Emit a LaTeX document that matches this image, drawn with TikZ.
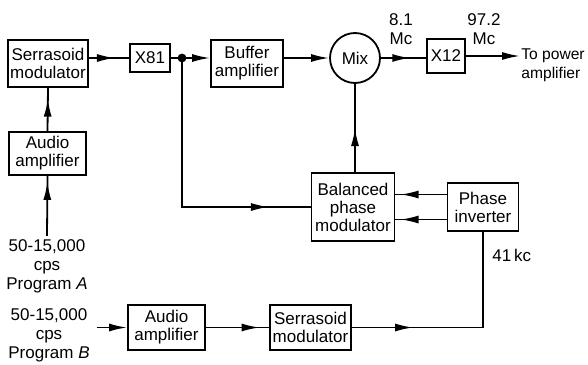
\documentclass[tikz,border=0pt]{standalone}
\usepackage{fontspec}
\setmainfont{Liberation Sans}
\usetikzlibrary{arrows.meta,positioning,calc,decorations.markings}
\tikzset{
  blockbox/.style={draw=black,line width=0.9pt,align=center,inner sep=1pt,
                   font=\fontsize{8.5}{9}\selectfont},
  mixcircle/.style={draw=black,circle,line width=0.9pt,minimum size=25pt,
                    inner sep=0pt,font=\fontsize{8.5}{9}\selectfont},
  tagtext/.style={align=center,inner sep=1.5pt,font=\fontsize{8.5}{9.5}\selectfont},
  wire/.style={line width=0.9pt},
  midarr/.style={wire,decoration={markings,
                 mark=at position #1 with {\arrow{Latex[length=9pt,width=4pt]}}},
                 postaction={decorate}},
  midarr/.default=0.5,
  endarr/.style={wire,-{Latex[length=9pt,width=4pt]}}
}
\begin{document}
\begin{tikzpicture}[x=0.5pt,y=-0.5pt]
    \path[use as bounding box] (0,0) rectangle (588,364);
    % upper chain
    \node[blockbox,minimum width=39.5pt,minimum height=23.5pt] (serA) at (48,63.5)
      {Serrasoid\\modulator};
    \node[blockbox,minimum width=38.5pt,minimum height=21.5pt] (audA) at (47.5,153.5)
      {Audio\\amplifier};
    \node[blockbox,minimum width=20pt,minimum height=14pt] (xA) at (150,58) {X81};
    \node[blockbox,minimum width=36pt,minimum height=23.5pt] (buf) at (247,63.5)
      {Buffer\\amplifier};
    \node[mixcircle] (mix) at (355,58) {Mix};
    \node[blockbox,minimum width=19pt,minimum height=17pt] (xB) at (446,56) {X12};
    \node[tagtext] (fA) at (401,29) {8.1\\Mc};
    \node[tagtext] (fB) at (484,29) {97.2\\Mc};
    \node[tagtext,align=left,anchor=west,inner sep=0.5pt,
          font=\fontsize{7.8}{9.5}\selectfont] (pwr) at (520,65) {To power\\amplifier};
    \node[tagtext] (srcA) at (47,266) {50-15,000\\cps\\Program \textit{A}};
    \coordinate (tap) at (182,58);

    % lower chain
    \node[blockbox,minimum width=41.5pt,minimum height=34pt] (bpm) at (353,207)
      {Balanced\\phase\\modulator};
    \node[blockbox,minimum width=35.5pt,minimum height=24pt] (phinv) at (483,207)
      {Phase\\inverter};
    \node[blockbox,minimum width=38.5pt,minimum height=22.5pt] (audB) at (166.5,327.5)
      {Audio\\amplifier};
    \node[blockbox,minimum width=40.5pt,minimum height=22.5pt] (serB) at (310.5,327.5)
      {Serrasoid\\modulator};
    \node[tagtext] (srcB) at (49,335) {50-15,000\\cps\\Program \textit{B}};
    \node[tagtext,anchor=west] (kc) at (489,255) {41\,kc};
    \coordinate (inB) at (97,327.5);
    \coordinate (piA) at ($(phinv.west)+(0,-12.5)$);
    \coordinate (piB) at ($(phinv.west)+(0,12.5)$);

    \draw[midarr=0.9] (srcA.north) -- (audA.south);
    \draw[midarr=0.75] (audA.north) -- (serA.south);
    \draw[midarr=0.65] (serA.east |- xA) -- (xA.west);
    \draw[wire] (xA.east) -- (tap);
    \fill (tap) circle (2.2pt);
    \draw[endarr] (tap) -- (tap -| buf.west);
    \draw[endarr] (buf.east |- mix) -- (mix.west);
    \draw[midarr=0.65] (mix.east) -- (mix.east -| xB.west);
    \draw[endarr] (xB.east) -- (xB.east -| pwr.west);
    \draw[midarr=0.85] (tap) |- (bpm.west);
    \draw[midarr] (bpm.north -| mix) -- (mix.south);
    \draw[midarr=0.9] (piA) -- (piA -| bpm.east);
    \draw[midarr=0.9] (piB) -- (piB -| bpm.east);
    \draw[endarr] (inB) -- (audB.west);
    \draw[midarr=0.85] (audB.east) -- (serB.west);
    \draw[midarr=0.27] (serB.east) -| (phinv.south);
\end{tikzpicture}
\end{document}
